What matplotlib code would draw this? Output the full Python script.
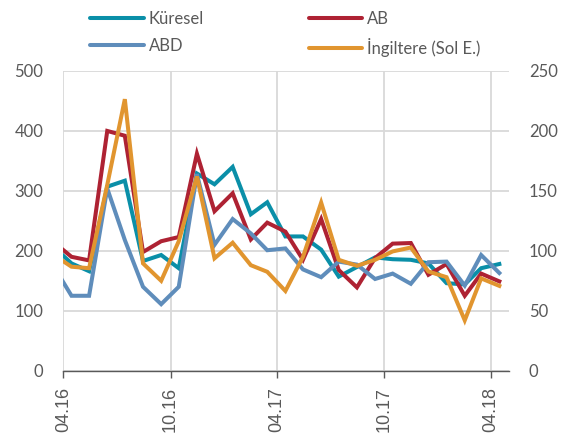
import numpy as np
import pandas as pd
import matplotlib
matplotlib.use("Agg")
import matplotlib.pyplot as plt
import matplotlib.dates as mdates

# monthly observations, plotted mid-month (first one is clipped by the axis start)
dates = pd.date_range("2016-03-01", "2018-04-01", freq="MS") + pd.Timedelta(days=14)

# right axis series
kuresel = [103.5, 89.5, 83, 153.5, 158.5, 91.5, 96.5, 85.5, 164.5, 155.5, 170, 130.5, 140.5,
           112, 112, 101, 78.5, 86.5, 94.5, 93, 92.5, 89.5, 73, 72, 85.5, 89]
ab = [107.5, 95, 92, 200, 196, 99, 108, 111.5, 181, 133, 148, 109.5, 123.5,
      116, 92.5, 126.5, 84, 69.5, 94, 106, 106.5, 80, 89, 62.5, 81, 74.5]
abd = [87.5, 62.5, 62.5, 152, 109, 70, 55.5, 70, 164, 105, 126.5, 114.5, 100.5,
       102, 84.5, 78, 91, 88.5, 76.5, 81, 72.5, 90.5, 91, 71, 96.5, 81.5]
# left axis series
ingiltere = [193.5, 173.5, 171, 310, 453, 179, 150, 216, 324, 187.5, 213.5, 176, 165,
             133, 190, 280.5, 185, 175, 185, 199, 205.5, 165.5, 156, 84, 154, 141.5]

left_ticks = [0, 100, 200, 300, 400, 500]
right_ticks = [0, 50, 100, 150, 200, 250]
x_ticks = pd.to_datetime(["2016-04-01", "2016-10-01", "2017-04-01", "2017-10-01", "2018-04-01"])

c_kur = "#0A8FA8"
c_ab = "#AE2233"
c_abd = "#5F8DBB"
c_ing = "#E1952F"
grid_c = "#D9D9D9"
txt_c = "#595959"
lw = 2.9

fig = plt.figure(figsize=(5.63, 4.37), dpi=100)
ax = fig.add_axes([63.3 / 563, 1 - 370.7 / 437, 445.4 / 563, 299.7 / 437])
ax2 = ax.twinx()

# left axis (orange) drawn above the right axis lines, grid lives on ax2
ax.set_zorder(ax2.get_zorder() + 1)
ax.patch.set_visible(False)

ax2.plot(dates, kuresel, color=c_kur, lw=lw, solid_joinstyle="miter", label="Küresel")
ax2.plot(dates, ab, color=c_ab, lw=lw, solid_joinstyle="miter", label="AB")
ax2.plot(dates, abd, color=c_abd, lw=lw, solid_joinstyle="miter", label="ABD")
ax.plot(dates, ingiltere, color=c_ing, lw=lw, solid_joinstyle="miter", label="İngiltere (Sol E.)")

ax.set_xlim(pd.Timestamp("2016-04-01"), pd.Timestamp("2018-05-01"))
ax.set_ylim(0, 500)
ax2.set_ylim(0, 250)
ax.set_yticks(left_ticks)
ax2.set_yticks(right_ticks)
ax.set_xticks(x_ticks)
ax.xaxis.set_major_formatter(mdates.DateFormatter("%m.%y"))

for a in (ax, ax2):
    for s in a.spines.values():
        s.set_visible(False)

ax.spines["bottom"].set_visible(True)
ax.spines["bottom"].set_color("#595959")
ax.spines["bottom"].set_linewidth(1.0)

ax.tick_params(axis="x", length=5, width=1, color="#595959", pad=7, labelsize=13,
               labelcolor=txt_c, labelrotation=90)
for lab in ax.get_xticklabels():
    lab.set_fontfamily("Liberation Sans")
ax.tick_params(axis="y", length=0, pad=14.4, labelsize=12, labelcolor=txt_c)
ax2.tick_params(axis="y", length=0, pad=14.4, labelsize=12, labelcolor=txt_c)
for lab in ax.get_yticklabels() + ax2.get_yticklabels():
    lab.set_fontfamily("Lato")

# gridlines on the lower axes so all lines sit on top of them
ax2.xaxis.set_visible(True)
ax2.tick_params(axis="x", bottom=False, labelbottom=False, top=False, labeltop=False)
ax2.grid(True, axis="both", color=grid_c, lw=1.3)
ax2.set_axisbelow(True)

h1, l1 = ax2.get_legend_handles_labels()
h2, l2 = ax.get_legend_handles_labels()
order = [h1[0], h1[2], h1[1], h2[0]]
labels = [l1[0], l1[2], l1[1], l2[0]]
leg = fig.legend(order, labels, ncol=2, loc="upper left", bbox_to_anchor=(82 / 563, 1 - 3 / 437),
                 frameon=False, borderpad=0, handlelength=3.2, handletextpad=0.3,
                 columnspacing=6.3, labelspacing=0.65, prop={"family": "Lato", "size": 12})
for t in leg.get_texts():
    t.set_color(txt_c)
for h in leg.legend_handles:
    h.set_solid_capstyle("round")

fig.savefig("out.png", dpi=100)
